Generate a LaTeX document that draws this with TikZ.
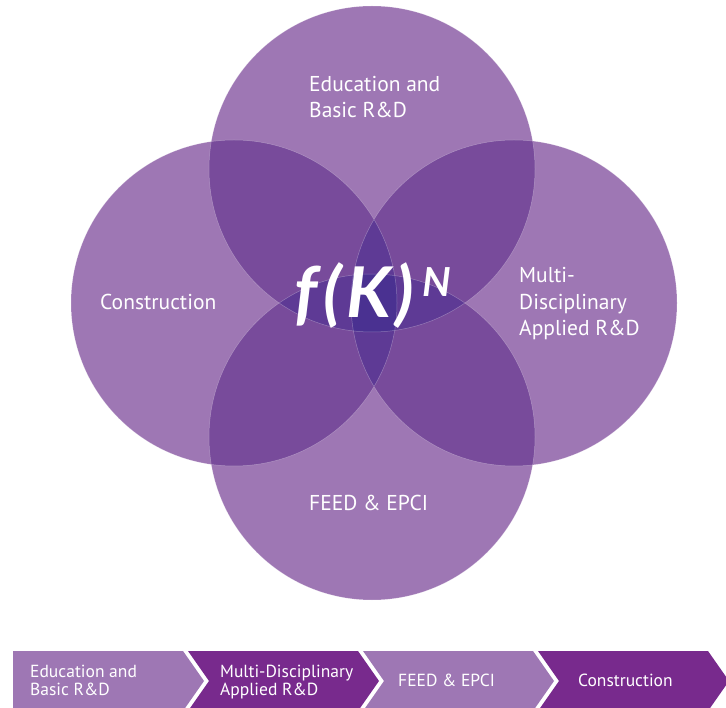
\documentclass[tikz,border=0pt]{standalone}
\usepackage{fontspec}
\setmainfont{PT Sans}
\newfontfamily\fkfont{Lato}
\usetikzlibrary{calc,positioning}
\definecolor{venn1}{HTML}{9E77B4}
\definecolor{venn2}{HTML}{784B9B}
\definecolor{venn3}{HTML}{5E3A95}
\definecolor{venn4}{HTML}{4A3191}
\definecolor{chevdark}{HTML}{782A8D}
\newcommand{\vennrad}{163}

\begin{document}
\begin{tikzpicture}[x=1pt, y=-1pt]

\tikzset{
ring1/.style={fill=venn1},
ring2/.style={fill=venn2},
ring3/.style={fill=venn3},
ring4/.style={fill=venn4},
rim/.style={draw=white,draw opacity=0.3,line width=0.5pt},
circlab/.style={text=white,font=\fontsize{21.5}{26.5}\selectfont,align=left,anchor=base west,inner sep=0pt},
steplab/.style={text=white,font=\fontsize{17.5}{18}\selectfont,align=left,anchor=base west,inner sep=0pt},
steplight/.style={fill=venn1},
stepdark/.style={fill=chevdark}
}

\useasboundingbox (0,0) rectangle (726,708);

% Nodes
\coordinate (ctop) at (372,169);
\coordinate (cbot) at (372,437);
\coordinate (cleft) at (234,303);
\coordinate (cright) at (514,303);

% Rings
\fill[ring1] (ctop) circle[radius=\vennrad] (cbot) circle[radius=\vennrad]
  (cleft) circle[radius=\vennrad] (cright) circle[radius=\vennrad];

% Two rings
\begin{scope}
\clip (ctop) circle[radius=\vennrad];
\fill[ring2] (cleft) circle[radius=\vennrad] (cright) circle[radius=\vennrad] (cbot) circle[radius=\vennrad];
\end{scope}
\begin{scope}
\clip (cbot) circle[radius=\vennrad];
\fill[ring2] (cleft) circle[radius=\vennrad] (cright) circle[radius=\vennrad];
\end{scope}
\begin{scope}
\clip (cleft) circle[radius=\vennrad];
\fill[ring2] (cright) circle[radius=\vennrad];
\end{scope}

% Three rings
\begin{scope}
\clip (ctop) circle[radius=\vennrad];
\clip (cbot) circle[radius=\vennrad];
\fill[ring3] (cleft) circle[radius=\vennrad] (cright) circle[radius=\vennrad];
\end{scope}
\begin{scope}
\clip (cleft) circle[radius=\vennrad];
\clip (cright) circle[radius=\vennrad];
\fill[ring3] (ctop) circle[radius=\vennrad] (cbot) circle[radius=\vennrad];
\end{scope}

% Four rings
\begin{scope}
\clip (ctop) circle[radius=\vennrad];
\clip (cbot) circle[radius=\vennrad];
\clip (cleft) circle[radius=\vennrad];
\fill[ring4] (cright) circle[radius=\vennrad];
\end{scope}

\draw[rim] (ctop) circle[radius=\vennrad] (cbot) circle[radius=\vennrad]
  (cleft) circle[radius=\vennrad] (cright) circle[radius=\vennrad];

% Labels
\node[circlab] (labedu) at (309,118) {Education and\\Basic R\&D};
\node[circlab] (labcon) at (100,310) {Construction};
\node[circlab] (labmul) at (519,336) {Multi-\\Disciplinary\\Applied R\&D};
\node[circlab] (labfeed) at (309,511) {FEED \& EPCI};
\node[text=white,font=\fontsize{70}{70}\fkfont\bfseries\itshape,anchor=base west,inner sep=0pt] (labfk)
  at (294,318) {f\kern6pt(\kern4pt K\kern4pt)\raisebox{21pt}{\fontsize{40}{40}\selectfont\kern9pt N}};

% Steps
\fill[steplight] (13,651) -- (183,651) -- (204,681) -- (183,711) -- (13,711) -- cycle;
\fill[stepdark] (188,651) -- (358,651) -- (379,681) -- (358,711) -- (188,711) -- (209,681) -- cycle;
\fill[steplight] (363,651) -- (533,651) -- (554,681) -- (533,711) -- (363,711) -- (384,681) -- cycle;
\fill[stepdark] (538,651) -- (708,651) -- (729,681) -- (708,711) -- (538,711) -- (559,681) -- cycle;

\node[steplab] (step1) at (30,695) {Education and\\Basic R\&D};
\node[steplab] (step2) at (220,695) {Multi-Disciplinary\\Applied R\&D};
\node[steplab] (step3) at (398,686) {FEED \& EPCI};
\node[steplab] (step4) at (578,686) {Construction};

\end{tikzpicture}
\end{document}
